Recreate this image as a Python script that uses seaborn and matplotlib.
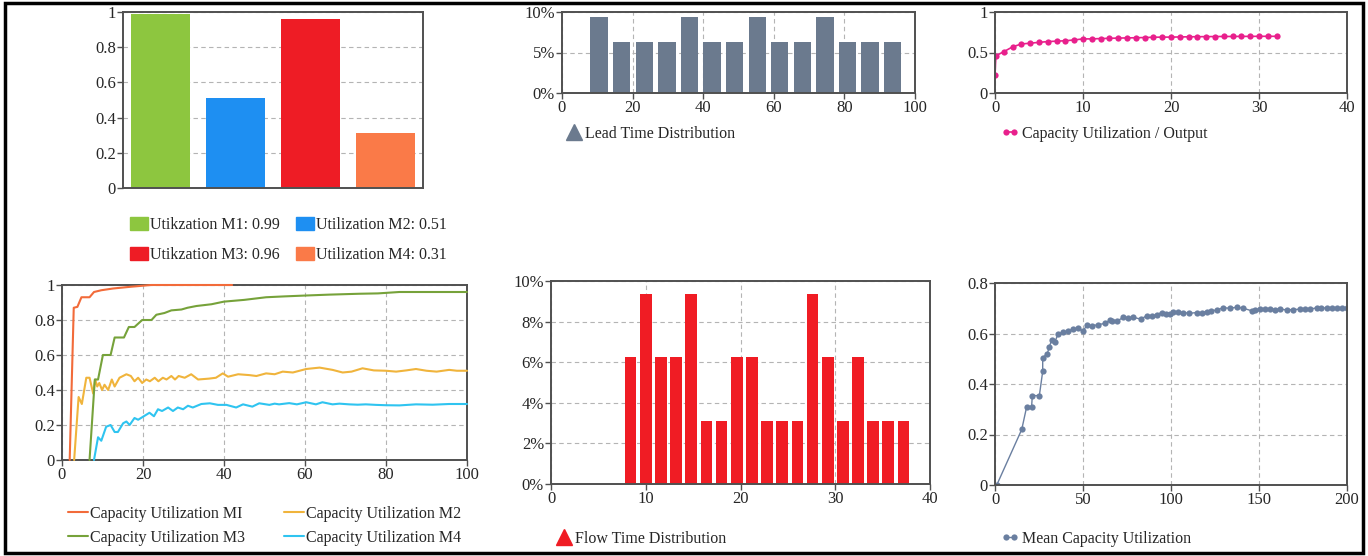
import pandas as pd
import matplotlib
matplotlib.use('agg')
import matplotlib.pyplot as plt
from matplotlib.lines import Line2D
from matplotlib.patches import Patch, Rectangle
from matplotlib.ticker import FuncFormatter, MultipleLocator
import seaborn as sns

# machine utilization (bars)
machines = ['M1', 'M2', 'M3', 'M4']
utilization = [0.99, 0.51, 0.96, 0.31]
bar_labels = ['Utikzation M1: 0.99', 'Utilization M2: 0.51',
              'Utikzation M3: 0.96', 'Utilization M4: 0.31']
bar_colors = ['#8dc63f', '#1e8ff2', '#ee1c25', '#fa7a48']

# capacity utilization per machine over time
m1_x = [1.9, 2.9, 3.8, 4.8, 6.8, 7.9, 9.7, 12.6, 17, 22, 30, 42]
m1_y = [0, 0.87, 0.875, 0.93, 0.93, 0.96, 0.97, 0.98, 0.99, 1.0, 1.0, 1.0]
m2_x = [3.0, 4.1, 4.9, 6.0, 6.8, 7.7, 8.2, 8.7, 9.2, 9.9, 10.5, 11.4, 12.3, 13.0,
        14.2, 15.9, 17.0, 17.9, 18.8, 19.8, 20.8, 21.7, 22.9, 23.8, 24.9, 25.8,
        27.0, 27.9, 28.8, 30.3, 31.9, 33.6, 36.3, 38.0, 39.7, 41.0, 43.5, 46.3,
        48.0, 50.4, 52.5, 54.5, 57.0, 60.3, 63.6, 66.8, 69.3, 71.5, 74.2, 77.0,
        80.0, 82.5, 85.0, 87.4, 90.0, 92.5, 95.6, 97.5, 100]
m2_y = [0, 0.36, 0.32, 0.47, 0.47, 0.38, 0.46, 0.42, 0.44, 0.40, 0.43, 0.40, 0.46, 0.42,
        0.47, 0.49, 0.48, 0.45, 0.47, 0.44, 0.46, 0.45, 0.47, 0.45, 0.47, 0.46,
        0.48, 0.46, 0.48, 0.47, 0.49, 0.46, 0.465, 0.47, 0.495, 0.476, 0.49, 0.485,
        0.48, 0.495, 0.49, 0.505, 0.50, 0.52, 0.528, 0.515, 0.50, 0.505, 0.524, 0.512,
        0.51, 0.505, 0.512, 0.52, 0.51, 0.505, 0.515, 0.51, 0.51]
m3_x = [6.8, 8.1, 8.9, 10.1, 12.0, 13.0, 15.3, 16.5, 17.9, 19.8, 22.1, 23.3, 25.3,
        27.0, 29.5, 31.0, 33.2, 36.9, 40, 45, 50.4, 55, 60.3, 66, 73.4, 78, 83.3, 90, 100]
m3_y = [0, 0.46, 0.46, 0.60, 0.60, 0.70, 0.70, 0.76, 0.76, 0.80, 0.80, 0.83, 0.84,
        0.855, 0.86, 0.87, 0.88, 0.89, 0.905, 0.915, 0.93, 0.935, 0.94, 0.945, 0.95,
        0.952, 0.96, 0.96, 0.96]
m4_x = [7.9, 8.9, 9.7, 10.9, 12.0, 13.0, 13.8, 15.1, 15.9, 16.7, 17.9, 18.8, 20.2,
        21.6, 22.7, 23.7, 24.7, 26.2, 27.4, 28.6, 29.9, 31.1, 32.3, 34.4, 36.5, 38.5,
        40.6, 43.0, 44.7, 47.0, 48.7, 51.2, 52.5, 53.6, 56.1, 58.0, 60.3, 62.7, 64.3,
        66.8, 68.5, 70.9, 73.0, 75.0, 77.5, 80.0, 83.3, 87.4, 91.5, 95.6, 100]
m4_y = [0, 0.13, 0.11, 0.19, 0.20, 0.16, 0.16, 0.21, 0.22, 0.20, 0.24, 0.23, 0.25,
        0.27, 0.25, 0.29, 0.28, 0.30, 0.28, 0.30, 0.29, 0.31, 0.30, 0.32, 0.324, 0.315,
        0.315, 0.30, 0.318, 0.305, 0.324, 0.315, 0.322, 0.318, 0.325, 0.318, 0.33, 0.318,
        0.33, 0.318, 0.322, 0.318, 0.316, 0.318, 0.315, 0.313, 0.312, 0.318, 0.316, 0.32, 0.32]
line_labels = ['Capacity Utilization MI', 'Capacity Utilization M2',
               'Capacity Utilization M3', 'Capacity Utilization M4']
line_colors = ['#f26b3a', '#f0b43c', '#76a23a', '#2fc4f0']

# lead time distribution (%)
lead_x = [10.5, 16.9, 23.3, 29.7, 36.1, 42.5, 48.9, 55.3, 61.7, 68.1, 74.5, 80.9, 87.3, 93.7]
lead_pct = [9.375, 6.25, 6.25, 6.25, 9.375, 6.25, 6.25, 9.375, 6.25, 6.25, 9.375, 6.25, 6.25, 6.25]

# flow time distribution (%)
flow_x = [8.4, 10.0, 11.6, 13.2, 14.8, 16.4, 18.0, 19.6, 21.2, 22.8, 24.4, 26.0,
          27.6, 29.2, 30.8, 32.4, 34.0, 35.6, 37.2]
flow_pct = [6.25, 9.375, 6.25, 6.25, 9.375, 3.125, 3.125, 6.25, 6.25, 3.125, 3.125,
            3.125, 9.375, 6.25, 3.125, 6.25, 3.125, 3.125, 3.125]

# capacity utilization / output
out_x = [0, 0.1] + list(range(1, 33))
out_y = [0.22, 0.46, 0.51, 0.57, 0.605, 0.615, 0.625, 0.635, 0.64, 0.645, 0.655, 0.668,
         0.668, 0.672, 0.675, 0.678, 0.68, 0.682, 0.685, 0.688, 0.69, 0.69, 0.692, 0.694,
         0.695, 0.696, 0.697, 0.698, 0.698, 0.699, 0.699, 0.70, 0.70, 0.70]

# mean capacity utilization
mean_x = [1, 15.2, 18, 20.8, 21.2, 25.2, 27.1, 27.1, 29.7, 30.9, 32.2, 34, 36, 38.8,
          41.7, 44.5, 47.3, 49.8, 52.5, 55, 58.5, 62.5, 65.3, 66.3, 69.1, 72.9, 75.5,
          78.6, 82.8, 86.2, 89, 91.9, 94.7, 97, 99.4, 101.3, 104, 107, 110.5, 114.6,
          117.5, 120.3, 123, 126, 129.7, 133.5, 137.3, 141.1, 145.8, 148, 150.6, 153.5,
          156.3, 159, 162, 165.7, 169.5, 173.3, 176, 179, 182.8, 185.5, 188.4, 191.2,
          194.1, 197, 199.8]
mean_y = [0, 0.22, 0.31, 0.31, 0.354, 0.354, 0.45, 0.504, 0.52, 0.548, 0.574, 0.567,
          0.60, 0.604, 0.61, 0.616, 0.62, 0.61, 0.633, 0.63, 0.635, 0.64, 0.653, 0.65,
          0.648, 0.664, 0.662, 0.664, 0.657, 0.67, 0.668, 0.675, 0.683, 0.678, 0.678,
          0.687, 0.684, 0.683, 0.68, 0.683, 0.682, 0.687, 0.69, 0.693, 0.702, 0.70,
          0.704, 0.70, 0.69, 0.694, 0.697, 0.697, 0.697, 0.695, 0.697, 0.693, 0.695,
          0.696, 0.697, 0.696, 0.702, 0.70, 0.702, 0.701, 0.702, 0.701, 0.702]

sns.set_style('white')
plt.rcParams['font.family'] = ['Liberation Serif', 'DejaVu Serif']

W, H = 1368, 556
fig = plt.figure(figsize=(W / 100, H / 100), dpi=100)

def axes_px(x0, y0, x1, y1):
    return fig.add_axes([x0 / W, 1 - y1 / H, (x1 - x0) / W, (y1 - y0) / H])

grid_kw = dict(color='#b4b4b4', linestyle=(0, (4, 3)), linewidth=0.8)
dec_fmt = FuncFormatter(lambda v, _: '%g' % round(v, 3))
pct_fmt = FuncFormatter(lambda v, _: '%g%%' % round(v, 3))
LEG_FS = 11.5

def style(ax, vgrid=True):
    ax.set_axisbelow(True)
    ax.yaxis.grid(True, **grid_kw)
    ax.xaxis.grid(vgrid, **grid_kw)
    for s in ax.spines.values():
        s.set_color('#505050')
        s.set_linewidth(1.4)
    ax.tick_params(direction='out', length=4, width=1, color='#505050',
                   labelsize=12, pad=1, left=True, bottom=True)
    ax.set_xlabel('')
    ax.set_ylabel('')

def legend_px(ax, handles, labels, x, y, **kw):
    opts = dict(loc='upper left', bbox_to_anchor=(x / W, 1 - y / H),
                bbox_transform=fig.transFigure, frameon=False, fontsize=LEG_FS,
                borderpad=0, borderaxespad=0, handletextpad=0.2)
    opts.update(kw)
    ax.legend(handles, labels, **opts)

# --- top left: utilization bars
ax1 = axes_px(123, 12, 423, 188)
sns.barplot(x=machines, y=utilization, hue=machines, palette=bar_colors,
            width=0.78, saturation=1, linewidth=0, legend=False, ax=ax1)
ax1.set_ylim(0, 1)
ax1.set_xlim(-0.5, 3.5)
ax1.yaxis.set_major_locator(MultipleLocator(0.2))
ax1.yaxis.set_major_formatter(dec_fmt)
style(ax1, vgrid=False)
ax1.set_xticks([])
order = [0, 2, 1, 3]
legend_px(ax1, [Patch(color=bar_colors[i]) for i in order], [bar_labels[i] for i in order],
          130, 217, ncol=2, handlelength=1.15, handleheight=0.9, columnspacing=1.0,
          labelspacing=0.85, handletextpad=0.1)

# --- bottom left: capacity utilization lines
ax2 = axes_px(62, 285, 467, 460)
series = [(m1_x, m1_y), (m2_x, m2_y), (m3_x, m3_y), (m4_x, m4_y)]
for (xs, ys), lab, col in zip(series, line_labels, line_colors):
    sns.lineplot(x=xs, y=ys, color=col, linewidth=1.5, estimator=None, sort=False,
                 ax=ax2, label=lab, zorder=3, clip_on=False)
ax2.set_xlim(0, 100)
ax2.set_ylim(0, 1)
ax2.xaxis.set_major_locator(MultipleLocator(20))
ax2.yaxis.set_major_locator(MultipleLocator(0.2))
ax2.yaxis.set_major_formatter(dec_fmt)
style(ax2)
legend_px(ax2, [Line2D([], [], color=line_colors[i], lw=1.5) for i in order],
          [line_labels[i] for i in order], 68, 506, ncol=2, handlelength=1.25,
          columnspacing=2.5, labelspacing=0.5, handletextpad=0.1)

# --- top middle: lead time distribution
ax3 = axes_px(562, 12, 915, 93)
sns.barplot(x=lead_x, y=lead_pct, native_scale=True, color='#6b7a8e', width=0.77,
            saturation=1, linewidth=0, ax=ax3)
ax3.set_xlim(0, 100)
ax3.set_ylim(0, 10)
ax3.xaxis.set_major_locator(MultipleLocator(20))
ax3.yaxis.set_major_locator(MultipleLocator(5))
ax3.xaxis.set_major_formatter(dec_fmt)
ax3.yaxis.set_major_formatter(pct_fmt)
style(ax3)
legend_px(ax3, [Line2D([], [], color='#6b7a8e', marker='^', markersize=11, lw=0)],
          ['Lead Time Distribution'], 566, 126, handlelength=1.0, numpoints=1)

# --- bottom middle: flow time distribution
ax4 = axes_px(551, 281, 930, 484)
sns.barplot(x=flow_x, y=flow_pct, native_scale=True, color='#f01c24', width=0.77,
            saturation=1, linewidth=0, ax=ax4)
ax4.set_xlim(0, 40)
ax4.set_ylim(0, 10)
ax4.xaxis.set_major_locator(MultipleLocator(10))
ax4.yaxis.set_major_locator(MultipleLocator(2))
ax4.xaxis.set_major_formatter(dec_fmt)
ax4.yaxis.set_major_formatter(pct_fmt)
style(ax4)
legend_px(ax4, [Line2D([], [], color='#f01c24', marker='^', markersize=11, lw=0)],
          ['Flow Time Distribution'], 556, 531, handlelength=1.0, numpoints=1)

# --- top right: capacity utilization / output
ax5 = axes_px(995, 12, 1347, 93)
sns.lineplot(x=out_x, y=out_y, color='#e8208c', marker='o', markersize=4.5,
             markeredgewidth=0, linewidth=1.2, estimator=None, sort=False, ax=ax5)
ax5.set_xlim(0, 40)
ax5.set_ylim(0, 1)
ax5.xaxis.set_major_locator(MultipleLocator(10))
ax5.yaxis.set_major_locator(MultipleLocator(0.5))
ax5.yaxis.set_major_formatter(dec_fmt)
style(ax5)
legend_px(ax5, [Line2D([], [], color='#e8208c', marker='o', markersize=4.5,
                       markeredgewidth=0, lw=1.2)],
          ['Capacity Utilization / Output'], 1001, 126, handlelength=1.1, numpoints=2)

# --- bottom right: mean capacity utilization
ax6 = axes_px(995, 283, 1347, 485)
sns.lineplot(x=mean_x, y=mean_y, color='#6a7fa0', marker='o', markersize=4.5,
             markeredgewidth=0, linewidth=1.0, estimator=None, sort=False, ax=ax6)
ax6.set_xlim(0, 200)
ax6.set_ylim(0, 0.8)
ax6.xaxis.set_major_locator(MultipleLocator(50))
ax6.yaxis.set_major_locator(MultipleLocator(0.2))
ax6.yaxis.set_major_formatter(dec_fmt)
style(ax6)
legend_px(ax6, [Line2D([], [], color='#6a7fa0', marker='o', markersize=4.5,
                       markeredgewidth=0, lw=1.0)],
          ['Mean Capacity Utilization'], 1001, 531, handlelength=1.1, numpoints=2)

# outer frame
fig.patches.append(Rectangle((5 / W, 3 / H), 1358 / W, 550 / H, transform=fig.transFigure,
                             fill=False, edgecolor='black', linewidth=2.5))

fig.savefig('out.png', dpi=100)
